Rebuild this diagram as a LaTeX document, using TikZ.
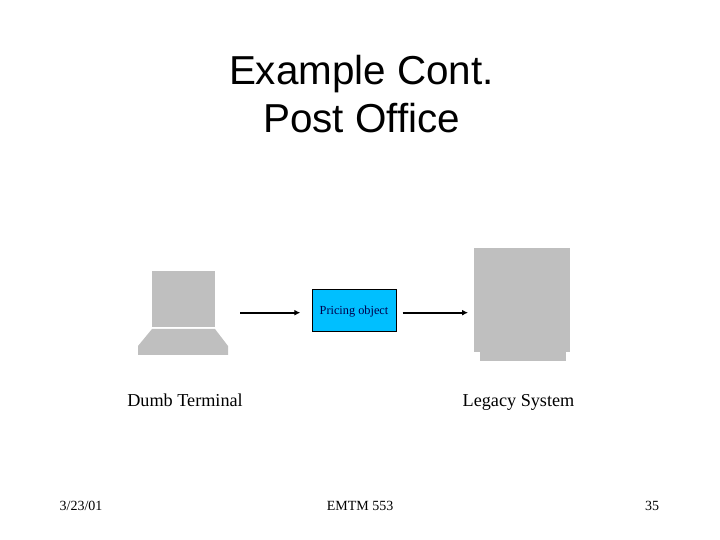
\documentclass[tikz,border=0pt]{standalone}
\usepackage{fontspec}
\setmainfont{Liberation Serif}
\newfontfamily\titlefont{Liberation Sans}
\usetikzlibrary{arrows.meta}
\tikzset{>={Latex[width=6pt,length=6pt]}}
\definecolor{boxblue}{HTML}{00BFFF}
\definecolor{shapegray}{HTML}{BFBFBF}
\tikzset{
  hardware/.style={fill=shapegray, draw=none, inner sep=0pt, outer sep=0pt},
  flow/.style={->, line width=2pt},
  caption/.style={font=\fontsize{18.2}{20}\selectfont, inner sep=0pt, anchor=base},
  footer/.style={font=\fontsize{14}{16}\selectfont, inner sep=0pt},
  heading/.style={font=\titlefont\fontsize{40.4}{47.5}\selectfont, align=center, inner sep=0pt}
}

\begin{document}
\begin{tikzpicture}[x=1pt,y=1pt]
  \useasboundingbox (0,0) rectangle (720,540);

  \node[heading] (title) at (361.5,446) {Example Cont.\\Post Office};

  %% terminal
  \node[hardware, minimum width=63pt, minimum height=56pt] (screen) at (183.5,241) {};
  \fill[shapegray] (152,211) -- (215,211) -- (228,194) -- (228,185)
  -- (138,185) -- (138,194) -- cycle;

  %% legacy
  \node[hardware, minimum width=86pt, minimum height=12pt] (legacyfoot) at (523,185) {};
  \node[hardware, minimum width=96pt, minimum height=104pt] (legacy) at (522,240) {};

  \node[draw=black, fill=boxblue, minimum width=84pt, minimum height=41.5pt, inner sep=0pt] (pricing) at (354.5,229.8) {};
  \node[font=\fontsize{12.3}{14}\selectfont, text=black!70!blue, inner sep=0pt] (pricinglabel)
  at (354,228.5) {Pricing object};

  \coordinate (flowline) at (0,227.3);

  \draw[flow, shorten <=25pt, shorten >=12pt] (screen.east |- flowline) -- (pricing.west |- flowline); %% terminal -> object
  \draw[flow, shorten <=6pt, shorten >=6pt] (pricing.east |- flowline) -- (legacy.west |- flowline); %% object -> legacy

  \node[caption] (termlabel) at (185,133.5) {Dumb Terminal};
  \node[caption] (legacylabel) at (518.5,133.5) {Legacy System};

  \node[footer] (datelabel) at (81,34) {3/23/01};
  \node[footer] (courselabel) at (360,34) {EMTM 553};
  \node[footer] (pagelabel) at (652,34) {35};
\end{tikzpicture}
\end{document}
